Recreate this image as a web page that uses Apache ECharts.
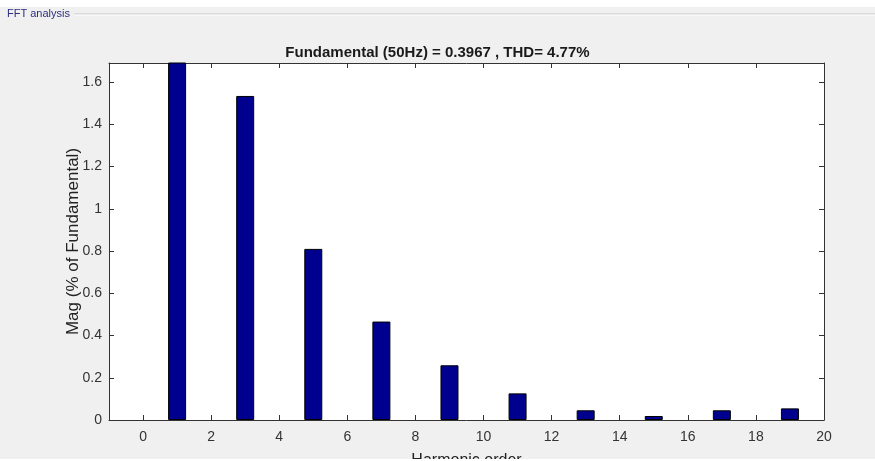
<!DOCTYPE html>
<html>
<head>
<meta charset="utf-8">
<script src="https://cdn.jsdelivr.net/npm/echarts@6/dist/echarts.min.js"></script>
<style>
html,body{margin:0;padding:0;background:#ffffff;}
#c{width:875px;height:461px;}
</style>
</head>
<body>
<div id="c"></div>
<script>
// ---- data ----
var harmonics = [1, 3, 5, 7, 9, 11, 13, 15, 17, 19];
var magnitudes = [100, 1.534, 0.81, 0.466, 0.259, 0.126, 0.046, 0.019, 0.046, 0.055];
var xTicks = [0, 2, 4, 6, 8, 10, 12, 14, 16, 18, 20];
var yTicks = [0, 0.2, 0.4, 0.6, 0.8, 1, 1.2, 1.4, 1.6];
var titleText = 'Fundamental (50Hz) = 0.3967 , THD= 4.77%';
var panelText = 'FFT analysis';
var xName = 'Harmonic order';
var yName = 'Mag (% of Fundamental)';

var FONT = '"Liberation Sans Narrow", "Liberation Sans", Arial, sans-serif';
var AX = '#333333';

var chart = echarts.init(document.getElementById('c'), null, {renderer: 'canvas'});

var seriesData = harmonics.map(function (h, i) { return [h, magnitudes[i]]; });

function xAxisBase(pos, showLabel) {
  return {
    type: 'value', position: pos, min: -1, max: 20,
    axisLine: {show: true, onZero: false, lineStyle: {color: AX, width: 1}},
    axisTick: {show: true, inside: true, length: 5, customValues: xTicks, lineStyle: {color: AX}},
    axisLabel: {show: showLabel, customValues: xTicks, color: '#333', fontSize: 14, fontFamily: FONT, margin: 10},
    splitLine: {show: false}
  };
}
function yAxisBase(pos, showLabel) {
  return {
    type: 'value', position: pos, min: 0, max: 1.69,
    axisLine: {show: true, onZero: false, lineStyle: {color: AX, width: 1}},
    axisTick: {show: true, inside: true, length: 5, customValues: yTicks, lineStyle: {color: AX}},
    axisLabel: {show: showLabel, customValues: yTicks, color: '#333', fontSize: 14, fontFamily: FONT, margin: 7},
    splitLine: {show: false}
  };
}

var xb = xAxisBase('bottom', true);
xb.name = xName; xb.nameLocation = 'middle'; xb.nameGap = 33; xb.nameMoveOverlap = false;
xb.nameTextStyle = {color: '#222', fontSize: 16, fontFamily: FONT};
var xt = xAxisBase('top', false);
var yl = yAxisBase('left', true);
yl.name = yName; yl.nameLocation = 'middle'; yl.nameGap = 27; yl.nameMoveOverlap = false;
yl.nameTextStyle = {color: '#222', fontSize: 17, fontFamily: FONT};
var yr = yAxisBase('right', false);

chart.setOption({
  backgroundColor: '#ffffff',
  animation: false,
  graphic: [
    {type: 'rect', shape: {x: 0, y: 7, width: 875, height: 452}, style: {fill: '#f0f0f0'}, z: -10},
    {type: 'rect', shape: {x: 0, y: 459, width: 875, height: 2}, style: {fill: '#ffffff'}, z: 100},
    {type: 'line', shape: {x1: 74, y1: 14, x2: 875, y2: 14}, style: {stroke: '#c4c4c4', lineWidth: 1}, z: -5},
    {type: 'line', shape: {x1: 74, y1: 15, x2: 875, y2: 15}, style: {stroke: '#ffffff', lineWidth: 1}, z: -5},
    {type: 'text', left: 7, top: 8, style: {text: panelText, fill: '#2e2e80', font: '11px ' + FONT}}
  ],
  title: {
    text: titleText, left: 'center', top: 40,
    textStyle: {color: '#1a1a1a', fontSize: 15, fontWeight: 'bold', fontFamily: FONT}
  },
  grid: {left: 109, top: 63, right: 51, bottom: 41, outerBoundsMode: 'none', containLabel: false,
         show: true, backgroundColor: '#ffffff', borderWidth: 0},
  xAxis: [xb, xt],
  yAxis: [yl, yr],
  series: [{
    type: 'bar', xAxisIndex: 0, yAxisIndex: 0,
    data: seriesData, barWidth: 18, clip: true,
    itemStyle: {color: '#00008f', borderColor: '#000000', borderWidth: 1}
  }]
});
</script>
</body>
</html>
